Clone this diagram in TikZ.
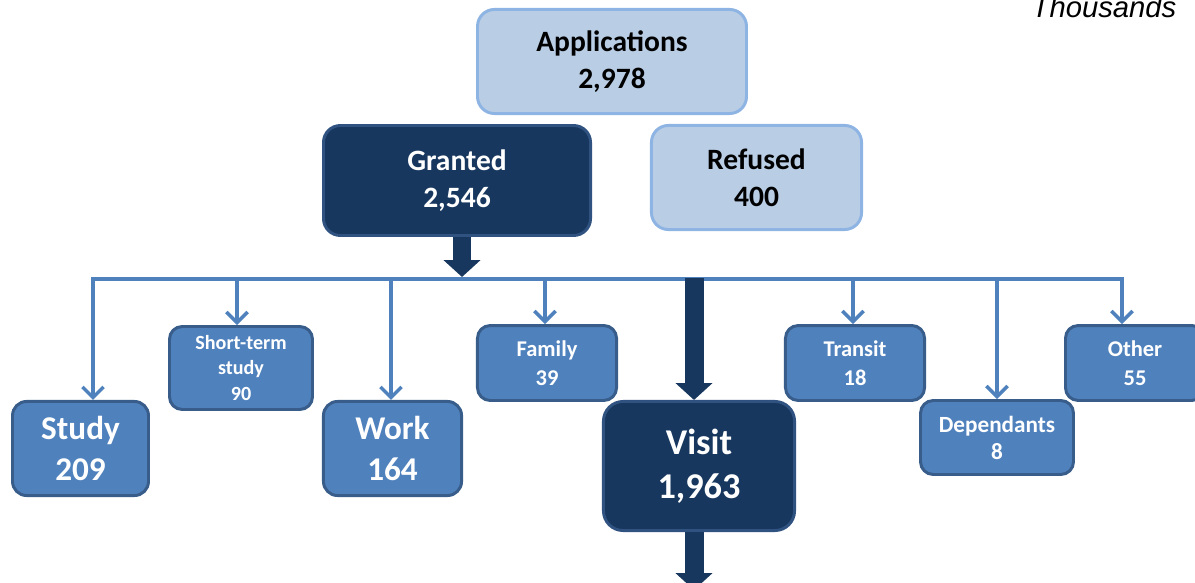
\documentclass[tikz,border=0pt]{standalone}
\usepackage{fontspec}
\setmainfont{Carlito}
\newfontfamily\arialfont{Liberation Sans}
\usetikzlibrary{arrows.meta}
\definecolor{lightfill}{HTML}{B9CDE5}
\definecolor{lightline}{HTML}{8EB4E3}
\definecolor{darkfill}{HTML}{17375E}
\definecolor{darkline}{HTML}{2F5280}
\definecolor{midfill}{HTML}{4F81BD}
\definecolor{midline}{HTML}{385D8A}
\begin{document}
\begin{tikzpicture}[x=0.025cm,y=-0.025cm,
  box/.style={line width=2.1pt, inner sep=0pt, align=center, font=\bfseries},
  lightbox/.style={box, rounded corners=12pt, draw=lightline, fill=lightfill, text=black,
     font=\bfseries\fontsize{21}{26.3}\selectfont},
  granbox/.style={box, rounded corners=12pt, draw=darkline, fill=darkfill, text=white,
     font=\bfseries\fontsize{21}{26.3}\selectfont},
  bigbox/.style={box, rounded corners=10pt, draw=midline, fill=midfill, text=white,
     font=\bfseries\fontsize{23.6}{29}\selectfont},
  smallbox/.style={box, rounded corners=9pt, draw=midline, fill=midfill, text=white,
     font=\bfseries\fontsize{16}{20.4}\selectfont},
  visitbox/.style={box, rounded corners=14pt, draw=darkline, fill=darkfill, text=white,
     font=\bfseries\fontsize{25.8}{31.3}\selectfont},
  branch/.style={draw=midfill, line width=2.5pt, -{Straight Barb[length=7.5pt,width=15pt]}},
  busline/.style={draw=midfill, line width=2.5pt, line cap=rect},
  bigarrow/.style={draw=darkfill, line width=13.5pt, -{Triangle[length=12pt,width=25.6pt]}}
]
\useasboundingbox (0,0) rectangle (1195,583);
\clip (0,0) rectangle (1195,583);

% top level
\node[lightbox, minimum width=191.3pt, minimum height=74pt] (apps) at (612,61.5) {Applications\\2,978};
\node[granbox, minimum width=189.9pt, minimum height=78.2pt] (granted) at (457,180.5) {Granted\\2,546};
\node[lightbox, minimum width=149.4pt, minimum height=74pt] (refused) at (756.5,177.5) {Refused\\400};

% category boxes
\node[bigbox, minimum width=96.7pt, minimum height=66.9pt] (study) at (80.5,448.5) {Study\\209};
\node[smallbox, minimum width=101.7pt, minimum height=59pt,
      font=\bfseries\fontsize{14.3}{17.8}\selectfont] (short) at (241,368) {Short-term\\study\\90};
\node[bigbox, minimum width=98.2pt, minimum height=66.9pt] (work) at (392.5,448.5) {Work\\164};
\node[smallbox, minimum width=98.9pt, minimum height=53.3pt] (family) at (547,363) {Family\\39};
\node[visitbox, minimum width=135.9pt, minimum height=91.8pt] (visit) at (699,466) {Visit\\1,963};
\node[smallbox, minimum width=98.9pt, minimum height=53.3pt] (transit) at (855,363) {Transit\\18};
\node[smallbox, minimum width=108.8pt, minimum height=52.6pt,
      font=\bfseries\fontsize{16.5}{19.2}\selectfont] (dep) at (997,437.5) {Dependants\\8};
\node[smallbox, minimum width=98.9pt, minimum height=53.3pt] (other) at (1135,363) {Other\\55};

\node[anchor=base, font=\arialfont\itshape\fontsize{20.8}{25}\selectfont] (thou) at (1104,18) {Thousands};

% bus coordinates
\coordinate (bStudy) at (93,279);
\coordinate (bShort) at (237,279);
\coordinate (bWork) at (391,279);
\coordinate (hub) at (462,277);
\coordinate (bFamily) at (545,279);
\coordinate (bVisit) at (694,278);
\coordinate (bTransit) at (853,279);
\coordinate (bDep) at (997,279);
\coordinate (bOther) at (1122,279);
\coordinate (vout) at (694,590);

\draw[busline] (bStudy) -- (bOther);
\draw[branch] (bStudy) -- (bStudy |- study.north);
\draw[branch] (bShort) -- (bShort |- short.north);
\draw[branch] (bWork) -- (bWork |- work.north);
\draw[branch] (bFamily) -- (bFamily |- family.north);
\draw[branch] (bTransit) -- (bTransit |- transit.north);
\draw[branch] (bDep) -- (bDep |- dep.north);
\draw[branch] (bOther) -- (bOther |- other.north);

\draw[bigarrow] (hub |- granted.south) -- (hub);
\draw[bigarrow] (bVisit) -- (bVisit |- visit.north);
\draw[bigarrow] (vout |- visit.south) -- (vout);
\end{tikzpicture}
\end{document}
